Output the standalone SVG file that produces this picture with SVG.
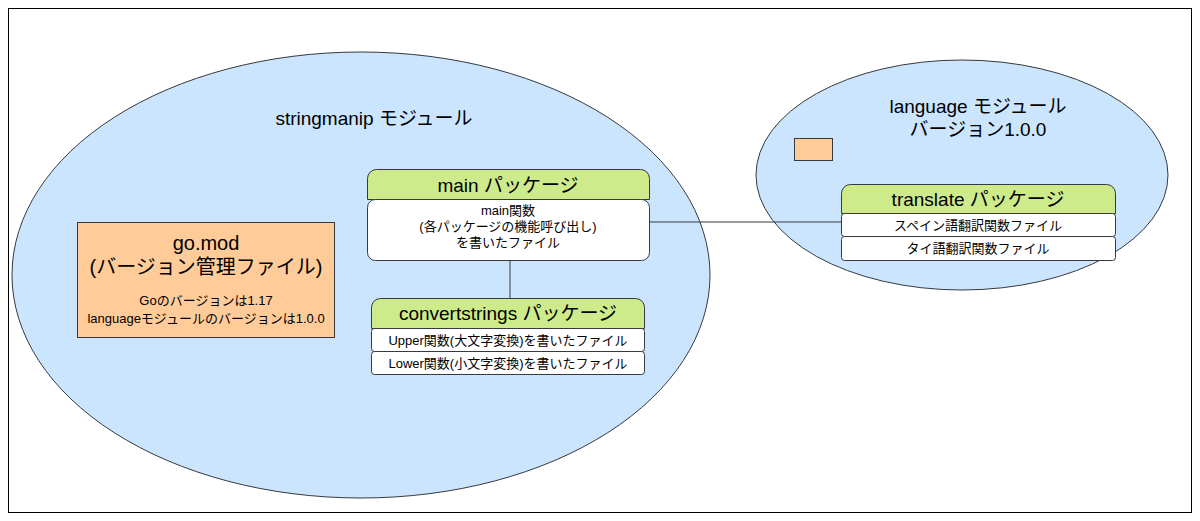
<svg xmlns="http://www.w3.org/2000/svg" width="1200" height="521" viewBox="0 0 1200 521">
<style>
text{font-family:"Liberation Sans","Noto Sans CJK JP",sans-serif;fill:#000;text-anchor:middle}
.ell{fill:#cce5ff;stroke:#36393d;stroke-width:1}
.hd{fill:#cdeb8b;stroke:#36393d}
.row{fill:#fff;stroke:#36393d}
.t12{font-size:13px}.t18{font-size:19px}.t20{font-size:20px}
</style>
<rect x="8.5" y="8.5" width="1183" height="504" fill="#fff" stroke="#000"/>
<g id="stringmanip"><ellipse class="ell" cx="361" cy="275" rx="349" ry="223"/><text x="374" y="125" class="t18">stringmanip モジュール</text></g>
<g id="language"><ellipse class="ell" cx="962" cy="175" rx="206" ry="115"/><text x="978" y="113" class="t18">language モジュール</text><text x="978" y="136" class="t18">バージョン1.0.0</text><rect x="794.5" y="138.5" width="38" height="22" fill="#ffcc99" stroke="#36393d"/></g>
<g id="connectors" stroke="#36393d" fill="none"><path d="M649 222H841"/><path d="M510 260V298"/></g>
<g id="gomod"><rect x="77.5" y="222.5" width="257" height="115" fill="#ffcc99" stroke="#36393d"/><text x="206" y="250" class="t20">go.mod</text><text x="206" y="274" class="t20">(バージョン管理ファイル)</text><text x="206" y="305" class="t12">Goのバージョンは1.17</text><text x="206" y="323" class="t12">languageモジュールのバージョンは1.0.0</text></g>
<g id="main"><path class="hd" d="M367.5 199.5V178.5a9 9 0 0 1 9-9h264a9 9 0 0 1 9 9V199.5Z"/><rect class="row" x="367.5" y="199.5" width="282" height="61" rx="8"/><text x="508" y="192" class="t18">main パッケージ</text><text x="508" y="215" class="t12">main関数</text><text x="508" y="231" class="t12">(各パッケージの機能呼び出し)</text><text x="508" y="247" class="t12">を書いたファイル</text></g>
<g id="convertstrings"><path class="hd" d="M371.5 328.5V307.5a9 9 0 0 1 9-9h255a9 9 0 0 1 9 9V328.5Z"/><rect class="row" x="371.5" y="328.5" width="273" height="23" rx="3"/><rect class="row" x="371.5" y="351.5" width="273" height="23" rx="3"/><text x="508" y="320" class="t18">convertstrings パッケージ</text><text x="508" y="345" class="t12">Upper関数(大文字変換)を書いたファイル</text><text x="508" y="368" class="t12">Lower関数(小文字変換)を書いたファイル</text></g>
<g id="translate"><path class="hd" d="M841.5 213.5V193.5a9 9 0 0 1 9-9h256a9 9 0 0 1 9 9V213.5Z"/><rect class="row" x="841.5" y="213.5" width="274" height="23" rx="3"/><rect class="row" x="841.5" y="236.5" width="274" height="24" rx="3"/><text x="978" y="206" class="t18">translate パッケージ</text><text x="978" y="230" class="t12">スペイン語翻訳関数ファイル</text><text x="978" y="253" class="t12">タイ語翻訳関数ファイル</text></g>
</svg>
